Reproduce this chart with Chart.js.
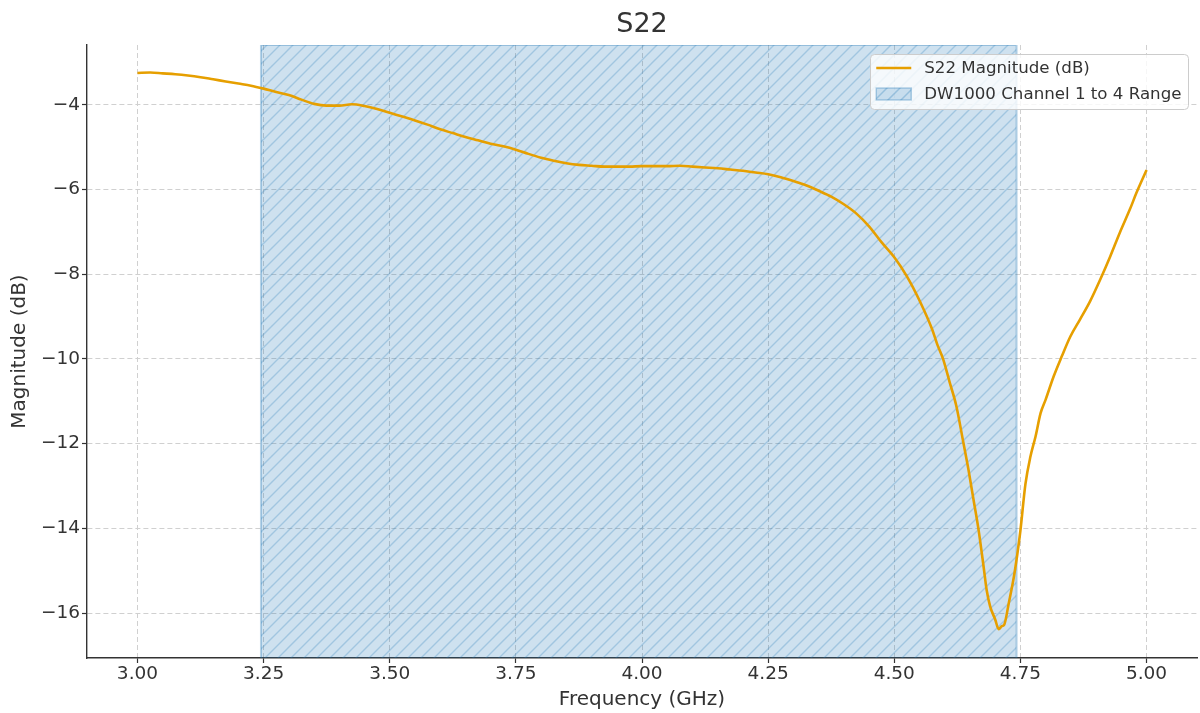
<!DOCTYPE html>
<html>
<head>
<meta charset="utf-8">
<title>S22</title>
<script src="https://cdn.jsdelivr.net/npm/chart.js@4.4.1/dist/chart.umd.min.js"></script>
<style>
  html, body { margin: 0; padding: 0; background: #ffffff; }
  #wrap { width: 1200px; height: 713px; }
</style>
</head>
<body>
<div id="wrap"><canvas id="chart" width="1200" height="713"></canvas></div>
<script>
// S22 reflection measurement: frequency (GHz) and magnitude (dB)
const freqGHz = [
  3.000, 3.025, 3.050, 3.075, 3.100, 3.125, 3.150, 3.175, 3.200, 3.225,
  3.250, 3.275, 3.300, 3.325, 3.350, 3.375, 3.400, 3.425, 3.450, 3.475,
  3.500, 3.525, 3.550, 3.575, 3.600, 3.625, 3.650, 3.675, 3.700, 3.725,
  3.750, 3.775, 3.800, 3.825, 3.850, 3.875, 3.900, 3.925, 3.950, 3.975,
  4.000, 4.025, 4.050, 4.075, 4.100, 4.125, 4.150, 4.175, 4.200, 4.225,
  4.250, 4.275, 4.300, 4.325, 4.350, 4.375, 4.400, 4.425, 4.450, 4.475,
  4.500, 4.525, 4.550, 4.575, 4.585, 4.597, 4.610, 4.623, 4.637, 4.647,
  4.657, 4.667, 4.677, 4.683, 4.690, 4.700, 4.707, 4.713, 4.718, 4.727,
  4.737, 4.744, 4.750, 4.760, 4.770, 4.780, 4.790, 4.800, 4.816, 4.832,
  4.849, 4.868, 4.888, 4.908, 4.928, 4.947, 4.967, 4.980, 5.000
];
const s22dB = [
  -3.25, -3.24, -3.26, -3.28, -3.31, -3.35, -3.40, -3.45, -3.50, -3.55,
  -3.62, -3.70, -3.77, -3.88, -3.98, -4.02, -4.02, -3.99, -4.03, -4.10,
  -4.19, -4.28, -4.37, -4.47, -4.58, -4.67, -4.76, -4.84, -4.92, -4.98,
  -5.06, -5.16, -5.25, -5.32, -5.38, -5.42, -5.44, -5.46, -5.46, -5.46,
  -5.45, -5.45, -5.45, -5.44, -5.46, -5.48, -5.50, -5.53, -5.56, -5.60,
  -5.64, -5.71, -5.80, -5.90, -6.03, -6.17, -6.35, -6.57, -6.87, -7.25,
  -7.60, -8.05, -8.62, -9.30, -9.65, -10.01, -10.56, -11.11, -11.98, -12.61,
  -13.32, -14.03, -14.90, -15.45, -15.84, -16.15, -16.38, -16.31, -16.27, -15.76,
  -15.15, -14.60, -14.05, -12.95, -12.30, -11.83, -11.28, -10.96, -10.41, -9.94,
  -9.47, -9.07, -8.64, -8.13, -7.58, -7.02, -6.47, -6.08, -5.54
];

// DW1000 channels 1–4 band edges (GHz)
const dwBandGHz = [3.2448, 4.7424];

// Axis ticks and limits
const xTicks = [3.00, 3.25, 3.50, 3.75, 4.00, 4.25, 4.50, 4.75, 5.00];
const yTicks = [-16, -14, -12, -10, -8, -6, -4];
const xLimits = [2.9, 5.1];
const yLimits = [-17.06, -2.59];

const FONT = '"DejaVu Sans", Verdana, sans-serif';
const TEXT = '#333333';
const SPINE = '#333333';
const GRID = '#d0d0d0';

// Diagonal "//" hatch over a translucent blue fill
function makeHatch() {
  const s = 26;
  const tile = document.createElement('canvas');
  tile.width = s; tile.height = s;
  const g = tile.getContext('2d');
  g.fillStyle = 'rgba(31,119,180,0.22)';
  g.fillRect(0, 0, s, s);
  g.strokeStyle = 'rgba(31,119,180,0.26)';
  g.lineWidth = 1.4;
  g.beginPath();
  for (let c = -2 * s; c <= 3 * s; c += s / 2) {
    g.moveTo(c + 3, -3);
    g.lineTo(c - s - 3, s + 3);
  }
  g.stroke();
  return g.createPattern(tile, 'repeat');
}

const canvas = document.getElementById('chart');
const ctx = canvas.getContext('2d');
const hatch = makeHatch();

// Title centred over the plot area
const plotTitle = {
  id: 'plotTitle',
  afterDraw(chart) {
    const { ctx, chartArea } = chart;
    ctx.save();
    ctx.font = '27px ' + FONT;
    ctx.fillStyle = TEXT;
    ctx.textAlign = 'center';
    ctx.textBaseline = 'middle';
    ctx.fillText('S22', (chartArea.left + chartArea.right) / 2, chartArea.top - 20);
    ctx.restore();
  }
};

// Legend box in the upper-right corner of the plot area
const cornerLegend = {
  id: 'cornerLegend',
  afterDraw(chart) {
    const { ctx, chartArea } = chart;
    const fs = 16.67;
    const pad = 6.5, handle = 35, gap = 13, rowH = 26;
    const sets = chart.data.datasets;
    ctx.save();
    ctx.font = fs + 'px ' + FONT;
    const tw = Math.max(...sets.map(d => ctx.measureText(d.label).width));
    const w = pad + handle + gap + tw + pad;
    const h = 55;
    const x0 = chartArea.right - 9 - w;
    const y0 = chartArea.top + 9;

    ctx.beginPath();
    ctx.roundRect(Math.round(x0) + 0.5, Math.round(y0) + 0.5, Math.round(w), h, 4);
    ctx.fillStyle = 'rgba(255,255,255,0.8)';
    ctx.fill();
    ctx.strokeStyle = '#cccccc';
    ctx.lineWidth = 1;
    ctx.stroke();

    sets.forEach((d, i) => {
      const cy = y0 + 14 + i * rowH;
      const hx = x0 + pad;
      if (d.fill) {
        ctx.fillStyle = d.backgroundColor;
        ctx.fillRect(hx, cy - 6, handle, 12);
        ctx.strokeStyle = d.borderColor;
        ctx.lineWidth = 1.5;
        ctx.strokeRect(hx, cy - 6, handle, 12);
      } else {
        ctx.beginPath();
        ctx.moveTo(hx, cy);
        ctx.lineTo(hx + handle, cy);
        ctx.strokeStyle = d.borderColor;
        ctx.lineWidth = d.borderWidth;
        ctx.stroke();
      }
      ctx.fillStyle = TEXT;
      ctx.textAlign = 'left';
      ctx.textBaseline = 'middle';
      ctx.fillText(d.label, hx + handle + gap, cy + 1);
    });
    ctx.restore();
  }
};

const minus = v => (v < 0 ? '\u2212' : '') + Math.abs(v);

new Chart(ctx, {
  type: 'line',
  data: {
    datasets: [
      {
        label: 'S22 Magnitude (dB)',
        data: freqGHz.map((f, i) => ({ x: f, y: s22dB[i] })),
        borderColor: '#E69F00',
        borderWidth: 2.6,
        pointRadius: 0,
        cubicInterpolationMode: 'monotone',
        fill: false
      },
      {
        label: 'DW1000 Channel 1 to 4 Range',
        data: [
          { x: dwBandGHz[0], y: yLimits[0] },
          { x: dwBandGHz[0], y: yLimits[1] },
          { x: dwBandGHz[1], y: yLimits[1] },
          { x: dwBandGHz[1], y: yLimits[0] }
        ],
        borderColor: 'rgba(31,119,180,0.32)',
        borderWidth: 2,
        backgroundColor: hatch,
        fill: 'start',
        pointRadius: 0,
        tension: 0,
        clip: 0
      }
    ]
  },
  options: {
    responsive: false,
    animation: false,
    devicePixelRatio: 1,
    layout: { padding: { left: 0, right: 3, top: 45, bottom: 0 } },
    plugins: {
      legend: { display: false },
      tooltip: { enabled: false },
      title: { display: false }
    },
    scales: {
      x: {
        type: 'linear',
        min: xLimits[0],
        max: xLimits[1],
        afterBuildTicks: s => { s.ticks = xTicks.map(v => ({ value: v })); },
        afterFit: s => { s.height = 55; },
        ticks: {
          color: TEXT,
          font: { family: FONT, size: 18.5 },
          padding: 0,
          maxRotation: 0,
          autoSkip: false,
          callback: v => Number(v).toFixed(2)
        },
        grid: {
          color: GRID,
          lineWidth: 1,
          drawTicks: true,
          tickLength: 5,
          tickColor: SPINE,
          tickWidth: 1.2
        },
        border: { display: true, color: SPINE, width: 1.4, dash: [5, 3] },
        title: {
          display: true,
          text: 'Frequency (GHz)',
          color: TEXT,
          font: { family: FONT, size: 20 },
          padding: { top: 0, bottom: 1 }
        }
      },
      y: {
        type: 'linear',
        min: yLimits[0],
        max: yLimits[1],
        afterBuildTicks: s => { s.ticks = yTicks.map(v => ({ value: v })); },
        afterFit: s => { s.width = 87; },
        ticks: {
          color: TEXT,
          font: { family: FONT, size: 18.5 },
          padding: 2,
          autoSkip: false,
          callback: v => minus(v)
        },
        grid: {
          color: GRID,
          lineWidth: 1,
          drawTicks: true,
          tickLength: 5,
          tickColor: SPINE,
          tickWidth: 1.2
        },
        border: { display: true, color: SPINE, width: 1.4, dash: [5, 3] },
        title: {
          display: true,
          text: 'Magnitude (dB)',
          color: TEXT,
          font: { family: FONT, size: 20 },
          padding: { top: 8, bottom: 0 }
        }
      }
    }
  },
  plugins: [plotTitle, cornerLegend]
});
</script>
</body>
</html>
